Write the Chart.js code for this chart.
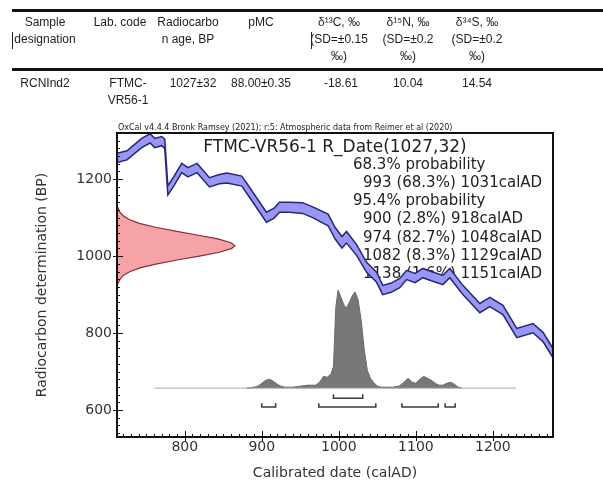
<!DOCTYPE html>
<html>
<head>
<meta charset="utf-8">
<script src="https://cdn.jsdelivr.net/npm/chart.js@4.4.1/dist/chart.umd.min.js"></script>
<style>
html, body { margin: 0; padding: 0; background: #fff; }
#wrap { position: relative; width: 603px; height: 482px; overflow: hidden; }
#chart { position: absolute; left: 0; top: 0; }
.t { position: absolute; transform: translateX(-50%); text-align: center; font-family: "Liberation Sans", Arial, sans-serif;
     font-size: 12px; line-height: 17px; color: #1e1e1e; white-space: nowrap; }
.rule { position: absolute; left: 12px; right: 0; height: 3px; background: #111; }
.cur { position: absolute; width: 1px; height: 17px; background: #222; }
</style>
</head>
<body>
<div id="wrap">
  <canvas id="chart" width="603" height="482"></canvas>

  <div class="rule" style="top:9px"></div>
  <div class="t" style="left:45px;top:14px">Sample<br>designation</div>
  <div class="t" style="left:120px;top:14px">Lab. code</div>
  <div class="t" style="left:188px;top:14px">Radiocarbo<br>n age, BP</div>
  <div class="t" style="left:261px;top:14px">pMC</div>
  <div class="t" style="left:339px;top:14px">δ¹³C, ‰<br>(SD=±0.15<br>‰)</div>
  <div class="t" style="left:408px;top:14px">δ¹⁵N, ‰<br>(SD=±0.2<br>‰)</div>
  <div class="t" style="left:477px;top:14px">δ³⁴S, ‰<br>(SD=±0.2<br>‰)</div>
  <div class="cur" style="left:12px;top:32px"></div>
  <div class="cur" style="left:311px;top:32px"></div>
  <div class="rule" style="top:68px"></div>
  <div class="t" style="left:45px;top:75px">RCNInd2</div>
  <div class="t" style="left:128px;top:75px">FTMC-<br>VR56-1</div>
  <div class="t" style="left:193px;top:75px">1027±32</div>
  <div class="t" style="left:261px;top:75px">88.00±0.35</div>
  <div class="t" style="left:341px;top:75px">-18.61</div>
  <div class="t" style="left:408px;top:75px">10.04</div>
  <div class="t" style="left:477px;top:75px">14.54</div>
</div>

<script>
// calibration curve (IntCal20 band), calAD vs BP
const calYears = [712, 725, 744, 755, 761, 770, 774, 778, 786, 796, 804, 816, 832, 845, 855, 874, 884, 906, 916, 923,
                  936, 953, 966, 986, 995, 1004, 1010, 1023, 1036, 1049, 1057, 1068, 1079, 1088, 1099, 1109, 1120, 1135, 1144, 1161,
                  1183, 1196, 1213, 1231, 1252, 1265, 1278];
const calBP =    [1255, 1262, 1294, 1306, 1294, 1299, 1292, 1171, 1195, 1229, 1218, 1229, 1192, 1200, 1203, 1195, 1166, 1101, 1112, 1127,
                  1127, 1125, 1114, 1094, 1060, 1036, 1049, 1016, 971, 945, 912, 918, 930, 951, 943, 956, 948, 938, 956, 912,
                  865, 881, 860, 800, 813, 790, 748];
const calErr =   [12, 12, 12, 12, 12, 12, 12, 12, 12, 12, 12, 12, 12, 12, 13, 13, 13, 13, 13, 13,
                  13, 14, 14, 15, 15, 15, 15, 14, 13, 13, 12, 12, 12, 12, 12, 12, 12, 12, 12, 12,
                  12, 12, 12, 12, 12, 12, 12];

// measured date (red), width in calendar years from the axis
const probBP =    [925, 930, 940, 950, 960, 970, 980, 990, 1000, 1010, 1020, 1027, 1035, 1045, 1055, 1065, 1075, 1085, 1095, 1105, 1115, 1125, 1130];
const probWidth = [0, 1.5, 4, 8, 17, 31, 52, 78, 107, 133, 149, 153, 148, 131, 104, 76, 50, 29, 16, 8, 3.5, 1.4, 0];

// calibrated probability (grey), relative height
const postYears = [880, 890, 895, 900, 905, 910, 915, 920, 925, 930, 940, 950, 960, 970, 975, 980, 985, 990, 993, 996,
                   999, 1003, 1007, 1010, 1014, 1018, 1021, 1025, 1029, 1033, 1037, 1041, 1045, 1050, 1055, 1070, 1078, 1083, 1090, 1095,
                   1100, 1105, 1110, 1115, 1120, 1125, 1130, 1135, 1140, 1145, 1150, 1155, 1160];
const postProb =  [0, .01, .02, .05, .08, .09, .07, .04, .02, .01, .01, .02, .03, .03, .06, .12, .11, .15, .22, .82,
                   1.0, .92, .84, .82, .88, .95, .98, .90, .69, .39, .18, .10, .06, .02, .01, .01, .02, .05, .10, .06,
                   .05, .09, .12, .10, .08, .05, .03, .03, .05, .06, .04, .01, 0];
const postSpan = [761, 1230];

const range68 = [[993, 1031]];
const range95 = [[900, 918], [974, 1048], [1082, 1129], [1138, 1151]];

const xTicks = [800, 900, 1000, 1100, 1200];
const yTicks = [600, 800, 1000, 1200];

const infoLines = [
  '68.3% probability',
  '  993 (68.3%) 1031calAD',
  '95.4% probability',
  '  900 (2.8%) 918calAD',
  '  974 (82.7%) 1048calAD',
  '  1082 (8.3%) 1129calAD',
  '  1138 (1.6%) 1151calAD'
];

// layout of the non-data parts (in axis units)
const xMin = 712, xMax = 1278, yMin = 530, yMax = 1320;
const postBase = 657, postHeight = 255;
const level68 = 631, level95 = 608, hook = 10;

// band as a closed shape: upper edge forward, lower edge back
const bandPts = calYears.map((x, i) => ({ x: x, y: calBP[i] + calErr[i] }))
  .concat(calYears.map((x, i) => ({ x: x, y: calBP[i] - calErr[i] })).reverse());

const probPts = probBP.map((b, i) => ({ x: xMin + probWidth[i], y: b }));
const postPts = postYears.map((x, i) => ({ x: x, y: postBase + postProb[i] * postHeight }));

function bracket(r, level) {
  return {
    data: [{ x: r[0], y: level + hook }, { x: r[0], y: level }, { x: r[1], y: level }, { x: r[1], y: level + hook }],
    borderColor: '#3a3a3a', borderWidth: 1.5, pointRadius: 0, fill: false
  };
}

const font = 'DejaVu Sans';

const framePlugin = {
  id: 'frame',
  beforeDatasetsDraw(chart) {
    const { ctx } = chart;
    ctx.save();
    ctx.fillStyle = '#222';
    ctx.textBaseline = 'middle';
    ctx.font = '8px "' + font + '"';
    ctx.textAlign = 'left';
    ctx.fillText('OxCal v4.4.4 Bronk Ramsey (2021); r:5: Atmospheric data from Reimer et al (2020)', 118, 128);
    ctx.font = '17px "' + font + '"';
    ctx.textAlign = 'center';
    ctx.fillText('FTMC-VR56-1 R_Date(1027,32)', 335, 148);
    ctx.font = '15px "' + font + '"';
    ctx.textAlign = 'left';
    infoLines.forEach((s, i) => {
      const indent = s.startsWith('  ') ? 10 : 0;
      ctx.fillText(s.trim(), 353 + indent, 165 + i * 18.2);
    });
    ctx.restore();
  },
  afterDatasetsDraw(chart) {
    const { ctx, chartArea: a, scales: { x, y } } = chart;
    ctx.save();
    ctx.strokeStyle = '#111';
    ctx.lineWidth = 1;
    ctx.beginPath();
    for (let v = 720; v < xMax; v += 10) {
      const px = Math.round(x.getPixelForValue(v)) + 0.5;
      const major = xTicks.includes(v);
      ctx.moveTo(px, a.bottom + (major ? 4 : 0));
      ctx.lineTo(px, a.bottom - (major ? 6 : 3));
    }
    for (let v = 540; v < yMax; v += 20) {
      const py = Math.round(y.getPixelForValue(v)) + 0.5;
      const major = yTicks.includes(v);
      ctx.moveTo(a.left - (major ? 4 : 0), py);
      ctx.lineTo(a.left + (major ? 6 : 3), py);
    }
    ctx.stroke();
    ctx.lineWidth = 2;
    ctx.strokeRect(a.left, a.top, a.right - a.left, a.bottom - a.top);
    ctx.restore();
  }
};

new Chart(document.getElementById('chart'), {
  type: 'line',
  data: {
    datasets: [
      {
        data: bandPts, fill: 'shape', backgroundColor: '#9898f4',
        borderColor: '#262678', borderWidth: 1.5, pointRadius: 0
      },
      {
        data: probPts, fill: 'shape', backgroundColor: '#f5a3a6',
        borderColor: '#8e2a3a', borderWidth: 1.2, pointRadius: 0
      },
      {
        data: [{ x: postSpan[0], y: postBase }, { x: postSpan[1], y: postBase }],
        borderColor: '#aaaaaa', borderWidth: 1, pointRadius: 0, fill: false
      },
      {
        data: postPts, fill: { value: postBase }, backgroundColor: '#777777',
        borderColor: '#6a6a6a', borderWidth: 1, pointRadius: 0
      }
    ].concat(range68.map(r => bracket(r, level68)), range95.map(r => bracket(r, level95)))
  },
  options: {
    responsive: false,
    animation: false,
    events: [],
    layout: { padding: { left: 30, top: 133, right: 50, bottom: 0 } },
    plugins: { legend: { display: false }, tooltip: { enabled: false } },
    elements: { line: { tension: 0 } },
    scales: {
      x: {
        type: 'linear', min: xMin, max: xMax,
        afterBuildTicks: s => { s.ticks = xTicks.map(v => ({ value: v })); },
        afterFit: s => { s.height = 45; },
        grid: { display: false, drawTicks: false },
        border: { display: false },
        ticks: { padding: 2, color: '#333', font: { family: font, size: 14 }, maxRotation: 0,
                 callback: v => String(v) },
        title: { display: true, text: 'Calibrated date (calAD)', color: '#333',
                 font: { family: font, size: 14 }, padding: { top: 1, bottom: 0 } }
      },
      y: {
        type: 'linear', min: yMin, max: yMax,
        afterBuildTicks: s => { s.ticks = yTicks.map(v => ({ value: v })); },
        afterFit: s => { s.width = 87; },
        grid: { display: false, drawTicks: false },
        border: { display: false },
        ticks: { padding: 5, color: '#333', font: { family: font, size: 14 },
                 callback: v => String(v) },
        title: { display: true, text: 'Radiocarbon determination (BP)', color: '#333',
                 font: { family: font, size: 14 }, padding: { top: 4, bottom: 4 } }
      }
    }
  },
  plugins: [framePlugin]
});
</script>
</body>
</html>
